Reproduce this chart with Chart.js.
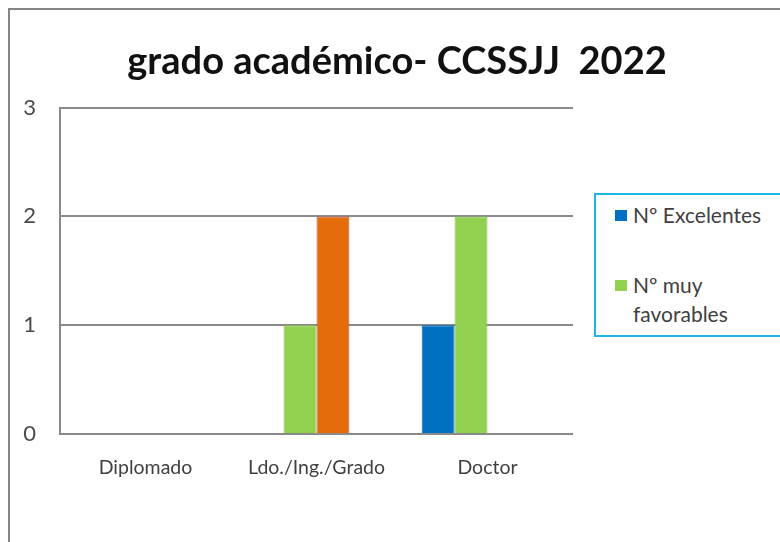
<!DOCTYPE html>
<html>
<head>
<meta charset="utf-8">
<script src="https://cdn.jsdelivr.net/npm/chart.js@4.4.0/dist/chart.umd.min.js"></script>
<style>
  html, body { margin: 0; padding: 0; background: #fff; }
  body { width: 780px; height: 542px; position: relative; overflow: hidden; font-family: Lato, "Open Sans", sans-serif; }
  #frame { position: absolute; left: 8px; top: 8px; width: 820px; height: 600px; border: 2px solid #858585; box-sizing: border-box; }
  #wrap { position: absolute; left: 0; top: 0; width: 780px; height: 542px; }
  #legend { position: absolute; left: 594px; top: 193px; width: 230px; height: 144px; border: 2px solid #1cb5e8; box-sizing: border-box; background: #fff; }
  .item { position: absolute; left: 19px; font-size: 21px; color: #404040; line-height: 29px; }
  .sw { position: absolute; left: 0; top: 10px; width: 12px; height: 11px; }
  .item span.t { display: block; padding-left: 18px; }
</style>
</head>
<body>
<div id="frame"></div>
<div id="wrap"><canvas id="chart-grado-bar"></canvas></div>
<div id="legend">
  <div class="item" style="top: 5px;"><div class="sw" style="background:#0070c0"></div><span class="t">Nº Excelentes</span></div>
  <div class="item" style="top: 75px;"><div class="sw" style="background:#92d050"></div><span class="t">Nº muy<br>favorables</span></div>
</div>
<script>
  const categories = ['Diplomado', 'Ldo./Ing./Grado', 'Doctor'];
  const excelentes = [0, 0, 1];
  const muyFavorables = [0, 1, 2];
  const favorables = [0, 2, 0];
  const otros = [0, 0, 0];
  const yTicks = [0, 1, 2, 3];

  const ctx = document.getElementById('chart-grado-bar').getContext('2d');

  new Chart(ctx, {
    type: 'bar',
    data: {
      labels: categories,
      datasets: [
        { label: 'Nº Excelentes', data: excelentes, backgroundColor: '#0070c0', borderColor: '#0066b3', borderWidth: 1 },
        { label: 'Nº muy favorables', data: muyFavorables, backgroundColor: '#92d050', borderColor: '#86c04a', borderWidth: 1 },
        { label: 'Nº favorables', data: favorables, backgroundColor: '#e46c0a', borderColor: '#c0504d', borderWidth: 1 },
        { label: 'Nº otros', data: otros, backgroundColor: '#8064a2', borderWidth: 0 }
      ]
    },
    options: {
      responsive: true,
      maintainAspectRatio: false,
      animation: false,
      layout: { padding: { left: 14, right: 0, top: 0, bottom: 0 } },
      datasets: {
        bar: { categoryPercentage: 0.77, barPercentage: 1.0 }
      },
      plugins: {
        legend: { display: false },
        tooltip: { enabled: false },
        title: {
          display: true,
          text: 'grado académico- CCSSJJ  2022',
          color: '#111',
          font: { family: 'Lato', size: 38, weight: 'bold' },
          padding: { top: 39, bottom: 23 }
        }
      },
      scales: {
        x: {
          grid: { display: false },
          border: { display: false },
          ticks: { color: '#404040', font: { family: 'Lato', size: 19.5 }, padding: 14, maxRotation: 0 },
          afterFit: function (scale) { scale.height = 108; }
        },
        y: {
          min: 0,
          max: 3,
          afterBuildTicks: function (scale) { scale.ticks = yTicks.map(v => ({ value: v })); },
          grid: { color: '#8a8a8a', lineWidth: 2, drawTicks: false },
          border: { display: true, color: '#8a8a8a', width: 2 },
          ticks: { color: '#4a4a4a', font: { family: 'Lato', size: 22 }, padding: 24 },
          afterFit: function (scale) { scale.width = 46; }
        },
        // empty right-hand space that the legend box sits in
        yRight: {
          position: 'right',
          display: true,
          grid: { display: false, drawTicks: false },
          border: { display: false },
          ticks: { display: false },
          afterFit: function (scale) { scale.width = 207; }
        }
      }
    }
  });
</script>
</body>
</html>
